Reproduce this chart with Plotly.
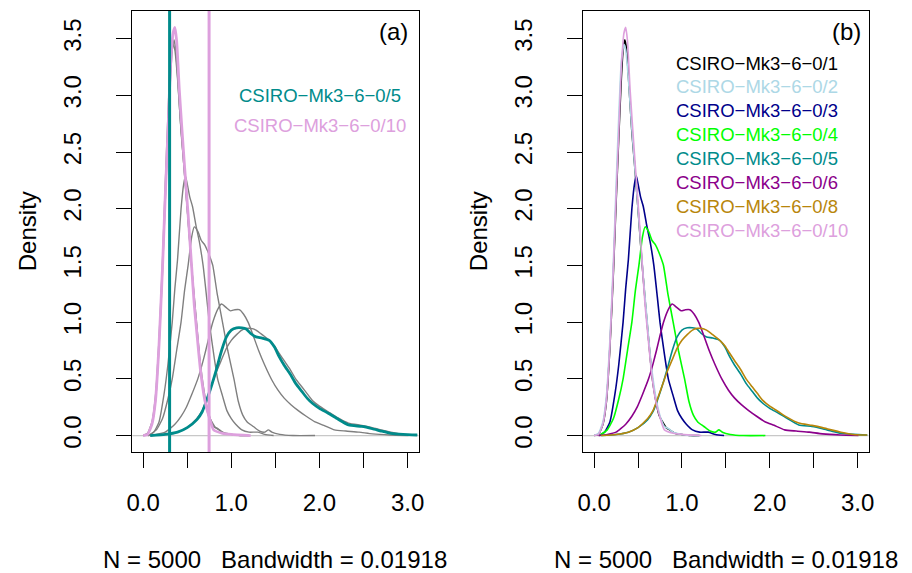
import plotly.graph_objects as go

# ---------------- data ----------------
run_names = ["CSIRO−Mk3−6−0/1", "CSIRO−Mk3−6−0/2", "CSIRO−Mk3−6−0/3", "CSIRO−Mk3−6−0/4",
             "CSIRO−Mk3−6−0/5", "CSIRO−Mk3−6−0/6", "CSIRO−Mk3−6−0/8", "CSIRO−Mk3−6−0/10"]
run_colors = ["#000000", "#ADD8E6", "#00008B", "#00FF00",
              "#008B8B", "#8B008B", "#B8860B", "#DDA0DD"]

x_r1 = [0.00, 0.05, 0.10, 0.14, 0.18, 0.22, 0.25, 0.28, 0.31, 0.33, 0.35, 0.37, 0.40, 0.43, 0.46,
        0.50, 0.54, 0.58, 0.62, 0.66, 0.70, 0.74, 0.78, 0.82, 0.86, 0.92, 1.00, 1.10, 1.20]
y_r1 = [0.00, 0.01, 0.10, 0.30, 0.78, 1.45, 2.05, 2.62, 3.15, 3.40, 3.49, 3.40, 3.05, 2.68, 2.40,
        2.00, 1.58, 1.20, 0.85, 0.52, 0.32, 0.18, 0.12, 0.07, 0.05, 0.02, 0.01, 0.00, 0.00]

x_r2 = [0.00, 0.05, 0.10, 0.14, 0.18, 0.22, 0.25, 0.28, 0.31, 0.34, 0.36, 0.39, 0.42, 0.45, 0.48,
        0.52, 0.56, 0.60, 0.64, 0.68, 0.72, 0.76, 0.80, 0.85, 0.90, 1.00, 1.10, 1.20]
y_r2 = [0.00, 0.02, 0.12, 0.35, 0.85, 1.55, 2.20, 2.80, 3.30, 3.45, 3.40, 3.15, 2.80, 2.50, 2.20,
        1.80, 1.40, 1.05, 0.70, 0.45, 0.27, 0.15, 0.08, 0.06, 0.03, 0.01, 0.00, 0.00]

x_r3 = [0.06, 0.12, 0.18, 0.24, 0.28, 0.33, 0.36, 0.39, 0.43, 0.46, 0.48, 0.50, 0.53, 0.56, 0.60,
        0.64, 0.68, 0.72, 0.75, 0.80, 0.845, 0.90, 0.95, 1.00, 1.05, 1.12, 1.20, 1.30, 1.38, 1.48]
y_r3 = [0.00, 0.03, 0.12, 0.38, 0.62, 1.00, 1.30, 1.55, 2.00, 2.22, 2.29, 2.22, 2.10, 2.02, 1.85,
        1.70, 1.50, 1.22, 1.00, 0.72, 0.50, 0.35, 0.22, 0.15, 0.10, 0.05, 0.03, 0.03, 0.01, 0.00]

x_r4 = [0.06, 0.15, 0.22, 0.28, 0.33, 0.38, 0.43, 0.47, 0.51, 0.55, 0.58, 0.62, 0.66, 0.70, 0.73,
        0.76, 0.79, 0.84, 0.90, 0.96, 1.03, 1.08, 1.13, 1.18, 1.25, 1.32, 1.38, 1.42, 1.46, 1.55,
        1.70, 1.95]
y_r4 = [0.00, 0.05, 0.15, 0.32, 0.50, 0.75, 1.00, 1.28, 1.50, 1.75, 1.84, 1.80, 1.72, 1.68, 1.63,
        1.57, 1.50, 1.25, 1.00, 0.75, 0.50, 0.30, 0.18, 0.12, 0.08, 0.04, 0.03, 0.05, 0.03, 0.01,
        0.00, 0.00]

x_r5 = [0.08, 0.25, 0.39, 0.50, 0.61, 0.67, 0.72, 0.78, 0.83, 0.89, 0.945, 1.00, 1.06, 1.12, 1.17,
        1.22, 1.28, 1.35, 1.43, 1.49, 1.54, 1.60, 1.67, 1.73, 1.80, 1.86, 1.92, 2.00, 2.10, 2.20,
        2.33, 2.48, 2.60, 2.70, 2.81, 2.95, 3.11]
y_r5 = [0.00, 0.01, 0.03, 0.07, 0.14, 0.21, 0.31, 0.45, 0.58, 0.75, 0.87, 0.93, 0.95, 0.95, 0.94,
        0.90, 0.87, 0.86, 0.84, 0.78, 0.70, 0.62, 0.54, 0.46, 0.39, 0.33, 0.285, 0.24, 0.197, 0.15,
        0.094, 0.08, 0.06, 0.04, 0.02, 0.01, 0.005]

x_r6 = [0.05, 0.15, 0.25, 0.36, 0.43, 0.49, 0.55, 0.62, 0.67, 0.71, 0.75, 0.79, 0.85, 0.89, 0.94,
        0.99, 1.04, 1.09, 1.14, 1.19, 1.24, 1.31, 1.38, 1.46, 1.53, 1.60, 1.68, 1.76, 1.85, 1.95,
        2.05, 2.17, 2.30, 2.45, 2.60, 2.80, 3.01]
y_r6 = [0.00, 0.01, 0.03, 0.10, 0.17, 0.25, 0.36, 0.50, 0.63, 0.75, 0.88, 1.00, 1.12, 1.16, 1.13,
        1.10, 1.11, 1.11, 1.07, 1.00, 0.90, 0.75, 0.62, 0.49, 0.40, 0.33, 0.27, 0.22, 0.17, 0.12,
        0.09, 0.05, 0.04, 0.03, 0.015, 0.005, 0.00]

x_r8 = [0.08, 0.25, 0.39, 0.50, 0.61, 0.67, 0.72, 0.78, 0.83, 0.89, 0.945, 1.00, 1.06, 1.12, 1.17,
        1.22, 1.28, 1.35, 1.43, 1.49, 1.54, 1.60, 1.67, 1.73, 1.80, 1.86, 1.92, 2.00, 2.10, 2.20,
        2.33, 2.48, 2.60, 2.70, 2.81, 2.95, 3.11]
y_r8 = [0.00, 0.01, 0.03, 0.07, 0.15, 0.22, 0.32, 0.45, 0.56, 0.67, 0.77, 0.84, 0.89, 0.93, 0.945,
        0.945, 0.93, 0.89, 0.84, 0.79, 0.73, 0.66, 0.58, 0.50, 0.43, 0.37, 0.31, 0.26, 0.21, 0.16,
        0.11, 0.09, 0.07, 0.05, 0.03, 0.01, 0.005]

x_r10 = [0.00, 0.05, 0.10, 0.14, 0.18, 0.22, 0.25, 0.28, 0.31, 0.34, 0.36, 0.38, 0.41, 0.44, 0.47,
         0.51, 0.55, 0.58, 0.61, 0.65, 0.70, 0.75, 0.80, 0.90, 1.00, 1.22]
y_r10 = [0.00, 0.01, 0.10, 0.31, 0.80, 1.49, 2.10, 2.66, 3.25, 3.55, 3.60, 3.48, 3.05, 2.70, 2.37,
         1.95, 1.49, 1.15, 0.90, 0.58, 0.31, 0.16, 0.05, 0.02, 0.01, 0.00]

series_x = [x_r1, x_r2, x_r3, x_r4, x_r5, x_r6, x_r8, x_r10]
series_y = [y_r1, y_r2, y_r3, y_r4, y_r5, y_r6, y_r8, y_r10]

highlight_idx = [4, 7]            # runs highlighted in panel (a)
vline_values = [0.30, 0.748]      # vertical markers in panel (a)

x_ticks = [0.0, 0.5, 1.0, 1.5, 2.0, 2.5, 3.0]
x_tick_labels = ["0.0", "", "1.0", "", "2.0", "", "3.0"]
y_ticks = [0.0, 0.5, 1.0, 1.5, 2.0, 2.5, 3.0, 3.5]
y_tick_labels = ["0.0", "0.5", "1.0", "1.5", "2.0", "2.5", "3.0", "3.5"]
x_label = "N = 5000\u00a0\u00a0\u00a0Bandwidth = 0.01918"
y_label = "Density"
panel_labels = ["(a)", "(b)"]

# ---------------- figure ----------------
W, H = 912, 573
FONT = "Liberation Sans, Arial, Helvetica, sans-serif"
GREY = "#7F7F7F"

fig = go.Figure()

# panel (a): grey background curves
for i in range(len(series_x)):
    if i in highlight_idx:
        continue
    fig.add_trace(go.Scatter(x=series_x[i], y=series_y[i], mode="lines",
                             line=dict(color=GREY, width=1.4, shape="spline", smoothing=0.5),
                             xaxis="x", yaxis="y", hoverinfo="skip"))
for i in highlight_idx:
    fig.add_trace(go.Scatter(x=series_x[i], y=series_y[i], mode="lines",
                             line=dict(color=run_colors[i], width=2.8, shape="spline", smoothing=0.5),
                             xaxis="x", yaxis="y", hoverinfo="skip"))

# panel (b): all coloured curves
for i in range(len(series_x)):
    fig.add_trace(go.Scatter(x=series_x[i], y=series_y[i], mode="lines",
                             line=dict(color=run_colors[i], width=1.6, shape="spline", smoothing=0.5),
                             xaxis="x2", yaxis="y2", hoverinfo="skip"))

shapes = []
# baseline at zero (both panels)
for xr_, yr_ in (("x domain", "y"), ("x2 domain", "y2")):
    shapes.append(dict(type="line", xref=xr_, yref=yr_, x0=0, x1=1, y0=0, y1=0,
                       line=dict(color="#C8C8C8", width=1.2), layer="below"))
# vertical markers in (a)
for i, v in zip(highlight_idx, vline_values):
    shapes.append(dict(type="line", xref="x", yref="y domain", x0=v, x1=v, y0=0, y1=1,
                       line=dict(color=run_colors[i], width=3)))

# plot-area geometry (pixels)
ax_left = [128, 585]
ax_right = [418, 874]
ax_top, ax_bottom = 11, 452

def dom_x(k):
    return [ax_left[k] / W, ax_right[k] / W]

y_dom = [1 - ax_bottom / H, 1 - ax_top / H]

axis_common = dict(showline=True, mirror=True, linecolor="black", linewidth=1.3,
                   ticks="outside", ticklen=15, tickwidth=1.3, tickcolor="black",
                   showgrid=False, zeroline=False,
                   tickfont=dict(family=FONT, size=24, color="black"))

xr = [-0.123, 3.124]
yr = [-0.145, 3.744]

fig.update_layout(
    width=W, height=H, margin=dict(l=0, r=0, t=0, b=0),
    paper_bgcolor="white", plot_bgcolor="white", showlegend=False,
    xaxis=dict(domain=dom_x(0), range=xr, tickvals=x_ticks, ticktext=x_tick_labels,
               anchor="y", ticklabelstandoff=14, **axis_common),
    yaxis=dict(domain=y_dom, range=yr, tickvals=y_ticks, ticktext=y_tick_labels,
               anchor="x", tickangle=-90, ticklabelstandoff=26, **axis_common),
    xaxis2=dict(domain=dom_x(1), range=xr, tickvals=x_ticks, ticktext=x_tick_labels,
                anchor="y2", ticklabelstandoff=14, **axis_common),
    yaxis2=dict(domain=y_dom, range=yr, tickvals=y_ticks, ticktext=y_tick_labels,
                anchor="x2", tickangle=-90, ticklabelstandoff=26, **axis_common),
    shapes=shapes,
)

ann = []
# axis titles
for k in range(2):
    cx = (ax_left[k] + ax_right[k]) / 2
    ann.append(dict(text=x_label, xref="paper", yref="paper", x=cx / W, y=1 - 559 / H,
                    xanchor="center", yanchor="middle", showarrow=False,
                    font=dict(family=FONT, size=24, color="black")))
for px in (22, 479):
    ann.append(dict(text=y_label, xref="paper", yref="paper", x=px / W,
                    y=1 - ((ax_top + ax_bottom) / 2) / H, textangle=-90,
                    xanchor="center", yanchor="middle", showarrow=False,
                    font=dict(family=FONT, size=24, color="black")))
# panel labels
for lab, px in zip(panel_labels, (409, 868)):
    ann.append(dict(text=lab, xref="paper", yref="paper", x=px / W, y=1 - 31 / H,
                    xanchor="right", yanchor="middle", showarrow=False,
                    font=dict(family=FONT, size=24, color="black")))
# legend text in (a): centred
for row, i in enumerate(highlight_idx):
    ann.append(dict(text=run_names[i], xref="paper", yref="paper", x=318 / W,
                    y=1 - (96 + 29 * row) / H, xanchor="center", yanchor="middle",
                    showarrow=False, font=dict(family=FONT, size=18.5, color=run_colors[i])))
# legend text in (b): left aligned
for row, i in enumerate(range(len(run_names))):
    ann.append(dict(text=run_names[i], xref="paper", yref="paper", x=677 / W,
                    y=1 - (63 + 23.9 * row) / H, xanchor="left", yanchor="middle",
                    showarrow=False, font=dict(family=FONT, size=18.5, color=run_colors[i])))

fig.update_layout(annotations=ann)
fig.write_html("out.html", config={"displayModeBar": False},
               post_script="document.body.style.margin='0';document.body.style.overflow='hidden';")
